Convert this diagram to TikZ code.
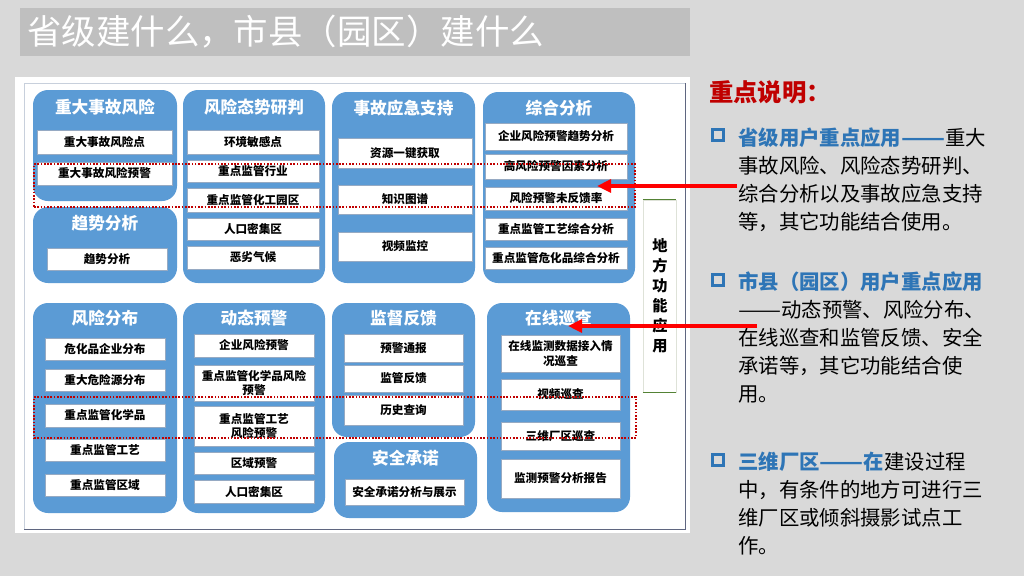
\documentclass[tikz,border=0pt]{standalone}
\usepackage{fontspec}
\setmainfont{Noto Sans CJK SC}
\usetikzlibrary{positioning,calc,fit,arrows.meta}
\definecolor{slidebg}{RGB}{217,217,217}
\definecolor{titlebar}{RGB}{191,191,191}
\definecolor{grpblue}{RGB}{91,155,213}
\definecolor{itemline}{RGB}{150,170,195}
\definecolor{markred}{RGB}{192,0,0}
\definecolor{arrowred}{RGB}{255,0,0}
\definecolor{headblue}{RGB}{46,117,182}
\definecolor{panelline}{RGB}{95,102,128}
\definecolor{panellight}{RGB}{200,208,220}
\definecolor{sidegreen}{RGB}{84,130,53}
\definecolor{sidegray}{RGB}{222,226,216}
\newcommand{\pxu}{0.03cm}
\newcommand{\ddash}{\scalebox{1.26}[1]{——}}
\tikzstyle{group} = [rectangle, rounded corners=0.45cm, fill=grpblue, inner sep=0pt]
\tikzstyle{gtitle} = [text=white, font=\bfseries\fontsize{14.2}{16}\selectfont, inner sep=0pt]
\tikzstyle{item} = [rectangle, fill=white, draw=itemline, line width=0.5pt, inner sep=0pt, align=center, font=\bfseries\fontsize{9.9}{12.5}\selectfont]
\tikzstyle{focus} = [rectangle, draw=markred, line width=1.4pt, dash pattern=on 1.4pt off 1.4pt, inner sep=0pt]
\tikzstyle{pointer} = [draw=arrowred, line width=2.8pt, -{Triangle[length=12pt,width=11pt]}]
\tikzstyle{note} = [anchor=north west, align=left, inner sep=0pt, font=\fontsize{17.4}{23.8}\selectfont]
\tikzstyle{bullet} = [rectangle, draw=headblue, line width=2.5pt, minimum size=0.33cm, inner sep=0pt]

\begin{document}
\begin{tikzpicture}[x=0.03cm, y=-0.03cm]
    \fill[slidebg] (0,0) rectangle (1024,576);
    \useasboundingbox (0,0) rectangle (1024,576);
    % title bar
    \node[fill=titlebar, fit={(20,8) (690,56)}, inner sep=0pt] (bar) {};
    \node[anchor=west, text=white, font=\fontsize{29.4}{32}\selectfont, inner sep=0pt] (title) at (27,32) {省级建什么，市县（园区）建什么};
    % white panel
    \node[fill=white, fit={(15,77) (690,533)}, inner sep=0pt] (panel) {};
    \draw[panellight] (24,529) -- (24,83) -- (685,83);
    \draw[panelline, line width=0.8pt] (685,83) -- (685,529) -- (24,529);

    % upper row
    \node[group, fit={(33,90) (177,201)}] (zdfx) {};
    \node[gtitle] (zdfxt) at ($(zdfx.north)+(0,17)$) {重大事故风险};
    \node[item, minimum width=135*\pxu, minimum height=24*\pxu] (zdfx1) at (104.5,142) {重大事故风险点};
    \node[item, minimum width=135*\pxu, minimum height=23*\pxu] (zdfx2) at (104.5,173.5) {重大事故风险预警};

    \node[group, fit={(33,207) (177,283)}] (qsfx) {};
    \node[gtitle] (qsfxt) at ($(qsfx.north)+(0,16)$) {趋势分析};
    \node[item, minimum width=120*\pxu, minimum height=22*\pxu] (qsfx1) at (107,259) {趋势分析};

    \node[group, fit={(183,90) (325,283)}] (fxts) {};
    \node[gtitle] (fxtst) at ($(fxts.north)+(0,17)$) {风险态势研判};
    \node[item, minimum width=132*\pxu, minimum height=24*\pxu] (fxts1) at (253,142) {环境敏感点};
    \node[item, minimum width=132*\pxu, minimum height=22*\pxu] (fxts2) at (253,171) {重点监管行业};
    \node[item, minimum width=132*\pxu, minimum height=24*\pxu] (fxts3) at (253,200) {重点监管化工园区};
    \node[item, minimum width=132*\pxu, minimum height=22*\pxu] (fxts4) at (253,229) {人口密集区};
    \node[item, minimum width=132*\pxu, minimum height=23*\pxu] (fxts5) at (253,257.5) {恶劣气候};

    \node[group, fit={(332,92) (475,283)}] (sgyj) {};
    \node[gtitle] (sgyjt) at ($(sgyj.north)+(0,16)$) {事故应急支持};
    \node[item, minimum width=134*\pxu, minimum height=30*\pxu] (sgyj1) at (405,153) {资源一键获取};
    \node[item, minimum width=134*\pxu, minimum height=29*\pxu] (sgyj2) at (405,199.5) {知识图谱};
    \node[item, minimum width=134*\pxu, minimum height=29*\pxu] (sgyj3) at (405,246.5) {视频监控};

    \node[group, fit={(483,92) (635,283)}] (zhfx) {};
    \node[gtitle] (zhfxt) at ($(zhfx.north)+(0,16)$) {综合分析};
    \node[item, minimum width=142*\pxu, minimum height=27*\pxu] (zhfx1) at (556,136.5) {企业风险预警趋势分析};
    \node[item, minimum width=142*\pxu, minimum height=25*\pxu] (zhfx2) at (556,166.5) {高风险预警因素分析};
    \node[item, minimum width=142*\pxu, minimum height=23*\pxu] (zhfx3) at (556,198.5) {风险预警未反馈率};
    \node[item, minimum width=142*\pxu, minimum height=22*\pxu] (zhfx4) at (556,229) {重点监管工艺综合分析};
    \node[item, minimum width=142*\pxu, minimum height=22*\pxu] (zhfx5) at (556,258) {重点监管危化品综合分析};

    % lower row
    \node[group, fit={(33,303) (177,513)}] (fxfb) {};
    \node[gtitle] (fxfbt) at ($(fxfb.north)+(0,15)$) {风险分布};
    \node[item, minimum width=120*\pxu, minimum height=22*\pxu] (fxfb1) at (105,349) {危化品企业分布};
    \node[item, minimum width=120*\pxu, minimum height=22*\pxu] (fxfb2) at (105,380) {重大危险源分布};
    \node[item, minimum width=120*\pxu, minimum height=23*\pxu] (fxfb3) at (105,415.5) {重点监管化学品};
    \node[item, minimum width=120*\pxu, minimum height=22*\pxu] (fxfb4) at (105,450) {重点监管工艺};
    \node[item, minimum width=120*\pxu, minimum height=22*\pxu] (fxfb5) at (105,485) {重点监管区域};

    \node[group, fit={(183,303) (325,513)}] (dtyj) {};
    \node[gtitle] (dtyjt) at ($(dtyj.north)+(0,15)$) {动态预警};
    \node[item, minimum width=120*\pxu, minimum height=23*\pxu] (dtyj1) at (254,345.5) {企业风险预警};
    \node[item, minimum width=120*\pxu, minimum height=36*\pxu] (dtyj2) at (254,383) {重点监管化学品风险\\预警};
    \node[item, minimum width=120*\pxu, minimum height=40*\pxu] (dtyj3) at (254,426) {重点监管工艺\\风险预警};
    \node[item, minimum width=120*\pxu, minimum height=22*\pxu] (dtyj4) at (254,463) {区域预警};
    \node[item, minimum width=120*\pxu, minimum height=23*\pxu] (dtyj5) at (254,491.5) {人口密集区};

    \node[group, fit={(332,303) (475,437)}] (jdfk) {};
    \node[gtitle] (jdfkt) at ($(jdfk.north)+(0,15)$) {监督反馈};
    \node[item, minimum width=119*\pxu, minimum height=28*\pxu] (jdfk1) at (403.5,348) {预警通报};
    \node[item, minimum width=119*\pxu, minimum height=27*\pxu] (jdfk2) at (403.5,378.5) {监管反馈};
    \node[item, minimum width=119*\pxu, minimum height=30*\pxu] (jdfk3) at (403.5,410) {历史查询};

    \node[group, fit={(334,442) (477,518)}] (aqcn) {};
    \node[gtitle] (aqcnt) at ($(aqcn.north)+(0,16)$) {安全承诺};
    \node[item, minimum width=119*\pxu, minimum height=26*\pxu] (aqcn1) at (404.5,492) {安全承诺分析与展示};

    \node[group, fit={(487,303) (630,512)}] (zxxc) {};
    \node[gtitle] (zxxct) at ($(zxxc.north)+(0,15)$) {在线巡查};
    \node[item, minimum width=119*\pxu, minimum height=37*\pxu] (zxxc1) at (560.5,353.5) {在线监测数据接入情\\况巡查};
    \node[item, minimum width=119*\pxu, minimum height=31*\pxu] (zxxc2) at (560.5,394.5) {视频巡查};
    \node[item, minimum width=119*\pxu, minimum height=28*\pxu] (zxxc3) at (560.5,436) {三维厂区巡查};
    \node[item, minimum width=119*\pxu, minimum height=39*\pxu] (zxxc4) at (560.5,478.5) {监测预警分析报告};

    % side box
    \node[fill=white, draw=sidegray, fit={(643,200) (676,392)}, inner sep=0pt] (side) {};
    \draw[sidegreen, line width=0.8pt] (side.north west) -- (side.north east);
    \draw[sidegreen, line width=0.8pt] (side.south west) -- (side.south east);
    \node[align=center, inner sep=0pt, font=\bfseries\fontsize{13}{17}\selectfont] (sidet) at (660,296) {地\\方\\功\\能\\应\\用};

    % dotted marks
    \node[focus, fit={(34,164) (635,207)}] (focus1) {};
    \node[focus, fit={(34,397) (636,438)}] (focus2) {};

    % notes on the right
    \node[anchor=west, inner sep=0pt, text=markred, font=\bfseries\fontsize{20.8}{22}\selectfont] (head) at (709,92) {重点说明：};
    \node[bullet] (b1) at (718,135) {};
    \node[note] (n1) at (738,128) {{\color{headblue}\bfseries 省级用户重点应用\ddash}重大\\事故风险、风险态势研判、\\综合分析以及事故应急支持\\等，其它功能结合使用。};
    \node[bullet] (b2) at (718,280) {};
    \node[note] (n2) at (738,272) {{\color{headblue}\bfseries 市县（园区）用户重点应用}\\\ddash 动态预警、风险分布、\\在线巡查和监管反馈、安全\\承诺等，其它功能结合使\\用。};
    \node[bullet] (b3) at (718,460) {};
    \node[note] (n3) at (738,452) {{\color{headblue}\bfseries 三维厂区\ddash 在}建设过程\\中，有条件的地方可进行三\\维厂区或倾斜摄影试点工\\作。};

    % arrows
    \coordinate (from1) at (737,186);
    \coordinate (to1) at (597,186);
    \coordinate (from2) at (757,326);
    \coordinate (to2) at (568,326);
    \draw[pointer] (from1) -- (to1);
    \draw[pointer] (from2) -- (to2);
\end{tikzpicture}
\end{document}
